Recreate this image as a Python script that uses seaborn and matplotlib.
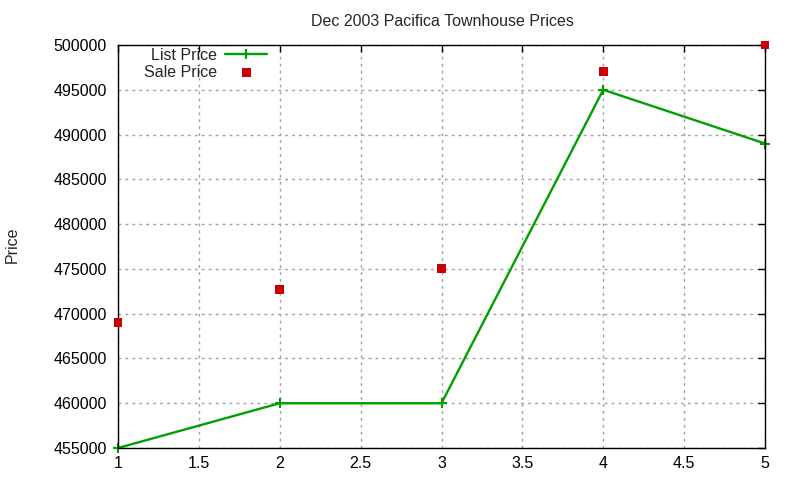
import matplotlib
matplotlib.use("Agg")
import matplotlib.pyplot as plt
from matplotlib.ticker import MultipleLocator, FormatStrFormatter
import seaborn as sns
import pandas as pd

# data
house = [1, 2, 3, 4, 5]
list_price = [455000, 460000, 460000, 495000, 489000]
sale_price = [469000, 472700, 475000, 497000, 500000]

df = pd.DataFrame({"house": house, "List Price": list_price, "Sale Price": sale_price})

sns.set_style("white")
plt.rcParams["font.family"] = ["Liberation Sans", "DejaVu Sans"]
plt.rcParams["font.size"] = 11.5

fig = plt.figure(figsize=(8, 4.8), dpi=100)
ax = fig.add_axes([118 / 800, 1 - 448 / 480, (765 - 118) / 800, (448 - 45) / 480])

green = "#00a000"
red = "#cc0000"

sns.lineplot(data=df, x="house", y="List Price", ax=ax, color=green, linewidth=1.7,
             marker="+", markersize=7, markeredgewidth=1.5, markeredgecolor=green,
             label="List Price", clip_on=False)
sns.scatterplot(data=df, x="house", y="Sale Price", ax=ax, color=red, marker="s",
                s=40, edgecolor="none", label="Sale Price", clip_on=False, zorder=5)

ax.set_xlim(1, 5)
ax.set_ylim(455000, 500000)
ax.xaxis.set_major_locator(MultipleLocator(0.5))
ax.yaxis.set_major_locator(MultipleLocator(5000))
ax.xaxis.set_major_formatter(FormatStrFormatter("%g"))
ax.yaxis.set_major_formatter(FormatStrFormatter("%d"))

ax.grid(True, color="#a0a0a0", linestyle=(0, (2, 3)), linewidth=1)
ax.set_axisbelow(True)
for sp in ax.spines.values():
    sp.set_visible(True)
    sp.set_color("black")
    sp.set_linewidth(1)

ax.tick_params(direction="in", length=5, width=1, top=True, right=True,
               labelsize=11.5, colors="black")
ax.tick_params(axis="y", pad=8)
ax.tick_params(axis="x", pad=6)

ax.set_xlabel("")
ax.set_ylabel("")
fig.text(12 / 800, 1 - 245 / 480, "Price", rotation=90, ha="center", va="center", fontsize=11.5)
fig.text(442 / 800, 1 - 21 / 480, "Dec 2003 Pacifica Townhouse Prices", ha="center",
         va="center", fontsize=11.5)

leg = ax.legend(loc="upper right", bbox_to_anchor=(267 / 800, 1 - 48 / 480),
                bbox_transform=fig.transFigure, markerfirst=False, frameon=False,
                borderpad=0, borderaxespad=0, handlelength=2.6, handletextpad=0.5,
                labelspacing=0.1, fontsize=11.5)

fig.savefig("out.png", dpi=100)
